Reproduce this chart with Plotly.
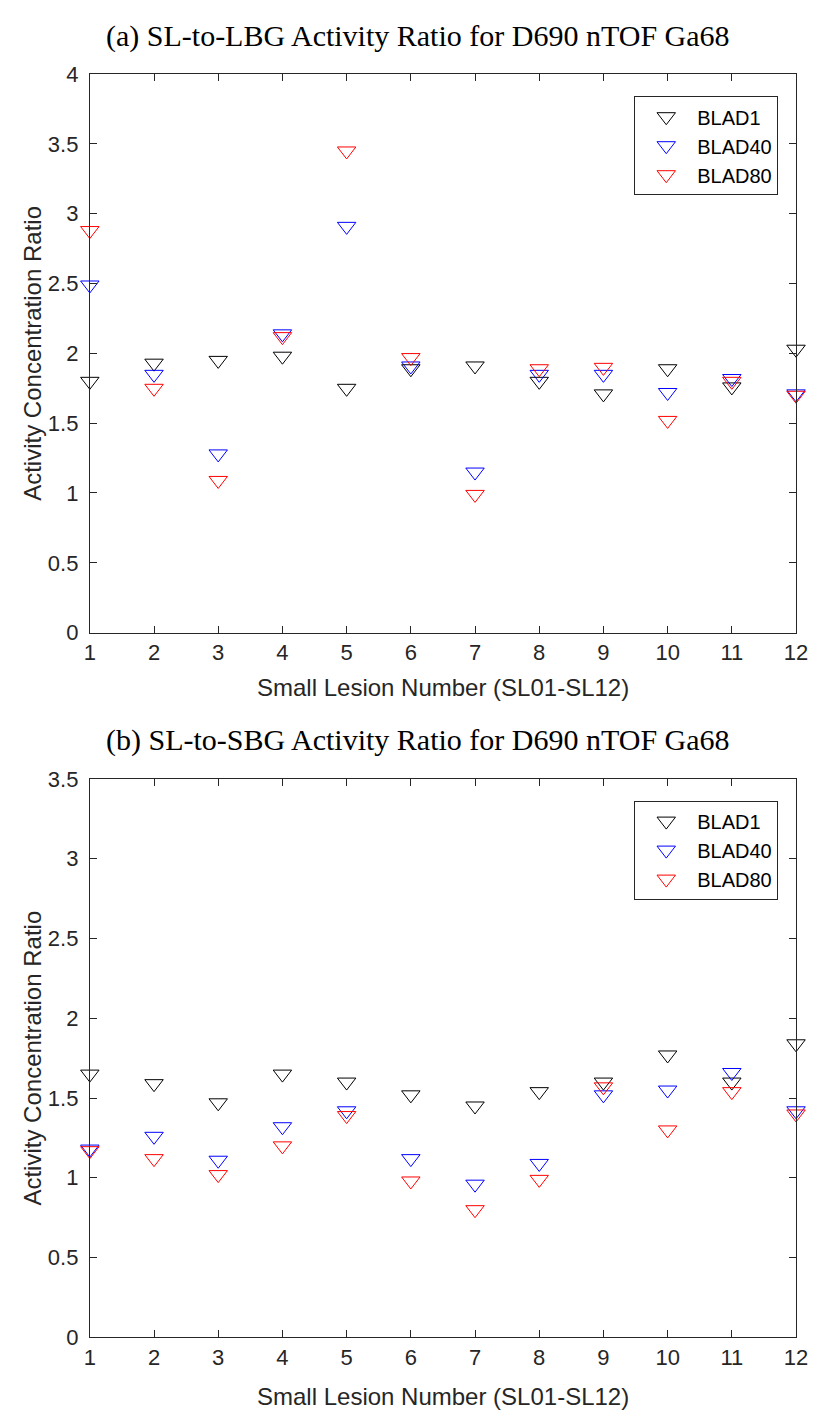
import plotly.graph_objects as go

# ---------------- data ----------------
lesion = list(range(1, 13))
x_ticks = list(range(1, 13))

top_blad1 = [1.80, 1.93, 1.95, 1.98, 1.75, 1.89, 1.91, 1.80, 1.71, 1.89, 1.76, 2.03]
top_blad40 = [2.49, 1.85, 1.28, 2.14, 2.91, 1.91, 1.15, 1.85, 1.85, 1.72, 1.82, 1.71]
top_blad80 = [2.88, 1.75, 1.09, 2.12, 3.45, 1.97, 0.99, 1.89, 1.90, 1.52, 1.80, 1.70]

bot_blad1 = [1.65, 1.59, 1.47, 1.65, 1.60, 1.52, 1.45, 1.54, 1.60, 1.77, 1.60, 1.84]
bot_blad40 = [1.18, 1.26, 1.11, 1.32, 1.42, 1.12, 0.96, 1.09, 1.52, 1.55, 1.66, 1.42]
bot_blad80 = [1.17, 1.12, 1.02, 1.20, 1.39, 0.98, 0.80, 0.99, 1.57, 1.30, 1.54, 1.40]

series_names = ["BLAD1", "BLAD40", "BLAD80"]
series_colors = ["#000000", "#0000ff", "#ff0000"]

title_a = "(a) SL-to-LBG Activity Ratio for D690 nTOF Ga68"
title_b = "(b) SL-to-SBG Activity Ratio for D690 nTOF Ga68"
xlabel = "Small Lesion Number (SL01-SL12)"
ylabel = "Activity Concentration Ratio"

# ---------------- figure ----------------
W, H = 823, 1423
SANS = "Liberation Sans, Arial, Helvetica, sans-serif"
SERIF = "Liberation Serif, Times New Roman, serif"
AX = "#262626"

fig = go.Figure()

def add_series(ys, xaxis, yaxis, legend):
    for name, color, y in zip(series_names, series_colors, ys):
        fig.add_trace(go.Scatter(
            x=lesion, y=y, mode="markers", name=name,
            xaxis=xaxis, yaxis=yaxis, legend=legend,
            cliponaxis=False,
            marker=dict(symbol="triangle-down-open", size=16, color=color,
                        line=dict(width=1, color=color)),
        ))

add_series([top_blad1, top_blad40, top_blad80], "x", "y", "legend")
add_series([bot_blad1, bot_blad40, bot_blad80], "x2", "y2", "legend2")

xl, xr = 85.7, 807.7
top_t, top_b = 63.3, 631.7
bot_t, bot_b = 780.7, 1349.0

def px(v):
    return v / W

def py(v):
    return 1 - v / H

common_x = dict(range=[1, 12], tickmode="array", tickvals=x_ticks,
                ticks="inside", ticklen=7, tickcolor=AX, tickwidth=1,
                showline=True, linecolor=AX, linewidth=1, mirror="ticks",
                showgrid=False, zeroline=False,
                tickfont=dict(family=SANS, size=22, color=AX))
common_y = dict(dtick=0.5, tick0=0,
                ticks="inside", ticklen=7, tickcolor=AX, tickwidth=1,
                showline=True, linecolor=AX, linewidth=1, mirror="ticks",
                showgrid=False, zeroline=False, ticklabelstandoff=6,
                tickfont=dict(family=SANS, size=22, color=AX))

legend_style = dict(xanchor="left", yanchor="top", itemwidth=52,
                    bgcolor="white", bordercolor=AX, borderwidth=1,
                    font=dict(family=SANS, size=20, color="#000000"))

fig.update_layout(
    width=W, height=H,
    margin=dict(l=0, r=0, t=0, b=0),
    paper_bgcolor="white", plot_bgcolor="white",
    xaxis=dict(domain=[px(xl), px(xr)], anchor="y", **common_x),
    yaxis=dict(domain=[py(top_b), py(top_t)], anchor="x", range=[0, 4], **common_y),
    xaxis2=dict(domain=[px(xl), px(xr)], anchor="y2", **common_x),
    yaxis2=dict(domain=[py(bot_b), py(bot_t)], anchor="x2", range=[0, 3.5], **common_y),
    legend=dict(x=px(642.3), y=py(85.7), **legend_style),
    legend2=dict(x=px(642.3), y=py(802.7), **legend_style),
    showlegend=True,
)

annotations = [
    dict(text=title_a, x=px(421), y=py(24), xref="paper", yref="paper",
         xanchor="center", yanchor="middle", showarrow=False,
         font=dict(family=SERIF, size=30, color="#000000")),
    dict(text=title_b, x=px(421), y=py(741), xref="paper", yref="paper",
         xanchor="center", yanchor="middle", showarrow=False,
         font=dict(family=SERIF, size=30, color="#000000")),
    dict(text=xlabel, x=px((xl + xr) / 2), y=py(688), xref="paper", yref="paper",
         xanchor="center", yanchor="middle", showarrow=False,
         font=dict(family=SANS, size=24, color=AX)),
    dict(text=xlabel, x=px((xl + xr) / 2), y=py(1409), xref="paper", yref="paper",
         xanchor="center", yanchor="middle", showarrow=False,
         font=dict(family=SANS, size=24, color=AX)),
    dict(text=ylabel, x=px(27), y=py((top_t + top_b) / 2), xref="paper", yref="paper",
         xanchor="center", yanchor="middle", showarrow=False, textangle=-90,
         font=dict(family=SANS, size=24, color=AX)),
    dict(text=ylabel, x=px(27), y=py((bot_t + bot_b) / 2), xref="paper", yref="paper",
         xanchor="center", yanchor="middle", showarrow=False, textangle=-90,
         font=dict(family=SANS, size=24, color=AX)),
]
fig.update_layout(annotations=annotations)

fig.write_html("out.html")
